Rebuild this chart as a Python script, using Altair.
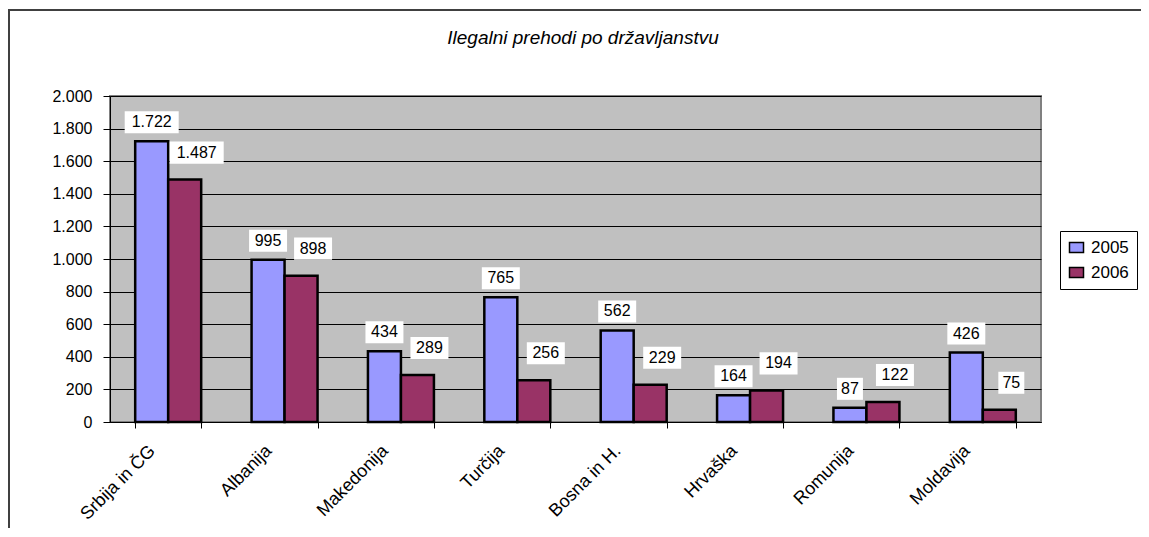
import altair as alt
import pandas as pd

categories = ["Srbija in ČG", "Albanija", "Makedonija", "Turčija",
              "Bosna in H.", "Hrvaška", "Romunija", "Moldavija"]
values_2005 = [1722, 995, 434, 765, 562, 164, 87, 426]
values_2006 = [1487, 898, 289, 256, 229, 194, 122, 75]
years = ["2005", "2006"]
y_ticks = [0, 200, 400, 600, 800, 1000, 1200, 1400, 1600, 1800, 2000]
title_text = "Ilegalni prehodi po državljanstvu"

rows = []
for c, a, b in zip(categories, values_2005, values_2006):
    rows.append({"drzava": c, "leto": "2005", "vrednost": a})
    rows.append({"drzava": c, "leto": "2006", "vrednost": b})
df = pd.DataFrame(rows)

FONT = "Liberation Sans"
W, H = 931, 326
PAD = {"left": 102, "top": 88, "right": 100, "bottom": 106}
DOTFMT = "replace(format(datum.value, ','), ',', '.')"

x_enc = alt.X(
    "drzava:N", sort=categories, title=None,
    scale=alt.Scale(paddingInner=0.433, paddingOuter=0.2165),
    axis=alt.Axis(labelAngle=-45, labelAlign="right", labelBaseline="middle",
                  labelFontSize=18, labelFont=FONT, labelColor="black",
                  labelOffset=-16, labelPadding=20, tickBand="extent",
                  tickSize=6, tickColor="black", domainColor="black",
                  domainWidth=1, grid=False, labelLimit=300),
)
y_enc = alt.Y(
    "vrednost:Q", title=None,
    scale=alt.Scale(domain=[0, 2000], nice=False),
    axis=alt.Axis(values=y_ticks, labelExpr=DOTFMT, labelFontSize=16,
                  labelFont=FONT, labelColor="black", tickSize=7,
                  tickColor="black", domainColor="black", gridColor="black",
                  gridWidth=1, gridOpacity=1, labelPadding=11, grid=True),
)

frame_data = alt.Data(values=[{"k": 1}])
frame_top = alt.Chart(frame_data).mark_rule(color="#404040", strokeWidth=2).encode(
    x=alt.value(-102), x2=alt.value(W + PAD["right"]), y=alt.value(-86))
frame_left = alt.Chart(frame_data).mark_rule(color="#404040", strokeWidth=2).encode(
    x=alt.value(-101), y=alt.value(-87), y2=alt.value(H + PAD["bottom"]))

title = alt.Chart(alt.Data(values=[{"t": title_text}])).mark_text(
    font=FONT, fontSize=19, fontStyle="italic", color="black",
    align="center", baseline="alphabetic"
).encode(text="t:N", x=alt.value(473), y=alt.value(-52))

bars = alt.Chart(df).mark_bar(stroke="black", strokeWidth=2.5).encode(
    x=x_enc,
    xOffset=alt.XOffset("leto:N", sort=years),
    y=y_enc,
    color=alt.Color(
        "leto:N",
        scale=alt.Scale(domain=years, range=["#9999FF", "#993366"]),
        legend=alt.Legend(
            title=None, orient="none", legendX=950, legendY=135,
            direction="vertical", fillColor="white", strokeColor="black",
            padding=8, symbolType="M-1,-0.7L1,-0.7L1,0.7L-1,0.7Z",
            symbolSize=196, symbolStrokeColor="black", symbolStrokeWidth=1.5,
            labelFont=FONT, labelFontSize=17, labelColor="black",
            rowPadding=7, labelOffset=6,
        ),
    ),
)

box_paths = {
    "2": "M-0.433,-0.367L0.433,-0.367L0.433,0.367L-0.433,0.367Z",
    "3": "M-0.633,-0.367L0.633,-0.367L0.633,0.367L-0.633,0.367Z",
    "5": "M-0.9,-0.367L0.9,-0.367L0.9,0.367L-0.9,0.367Z",
}

label_layers = []
for yr, xo, yo in [("2005", 16.5, -19), ("2006", 61.5, -27)]:
    base = alt.Chart(df).transform_filter(
        f"datum.leto == '{yr}'"
    ).transform_calculate(
        lab="replace(format(datum.vrednost, ','), ',', '.')"
    ).transform_calculate(nd="'' + length(datum.lab)")
    box = base.mark_point(filled=True, fill="white", opacity=1, strokeWidth=0).encode(
        x=x_enc, y=y_enc,
        xOffset=alt.value(xo), yOffset=alt.value(yo),
        shape=alt.Shape("nd:N", scale=alt.Scale(domain=list(box_paths.keys()),
                                               range=list(box_paths.values())),
                        legend=None),
        size=alt.value(3600),
    )
    txt = base.mark_text(font=FONT, fontSize=16, color="black",
                         baseline="middle", align="center").encode(
        x=x_enc, y=y_enc,
        xOffset=alt.value(xo), yOffset=alt.value(yo),
        text="lab:N",
    )
    label_layers += [box, txt]

chart = alt.layer(frame_top, frame_left, title, bars, *label_layers).properties(
    width=W, height=H,
    autosize=alt.AutoSizeParams(type="none"),
    padding=PAD,
    background="white",
).configure_view(
    fill="#C0C0C0", stroke="#808080", strokeWidth=2
)

chart.save("out.html", embed_options={"renderer": "svg", "actions": False})
